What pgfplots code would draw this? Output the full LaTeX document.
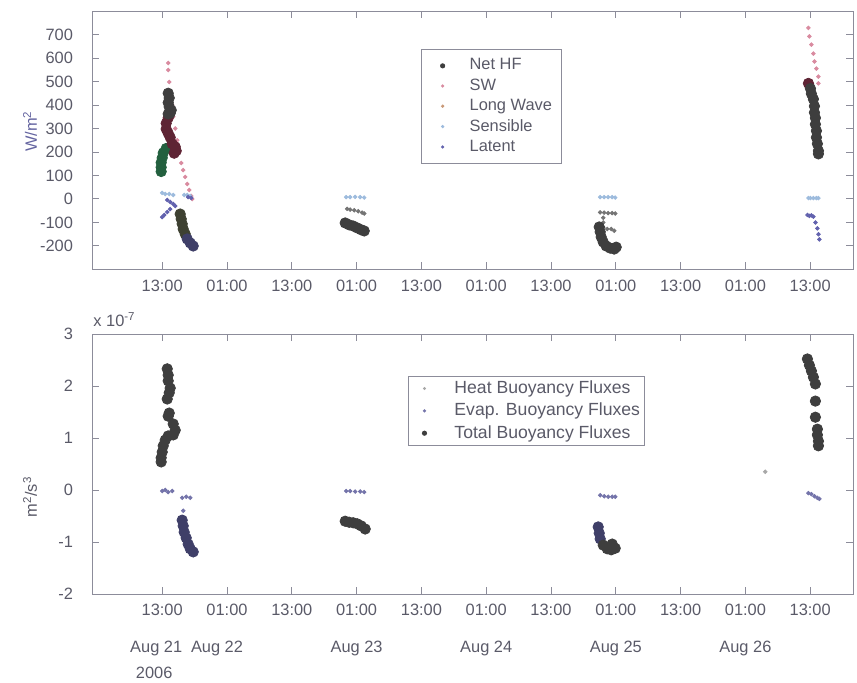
\documentclass[border=0pt]{standalone}
\usepackage{fontspec}
\setmainfont{Liberation Sans}
\usepackage{pgfplots}
\pgfplotsset{compat=1.18}

\definecolor{framegray}{HTML}{8C8C9A}
\definecolor{labelgray}{HTML}{5A5A68}
\definecolor{ylabpurple}{HTML}{6464A0}
\definecolor{netdark}{HTML}{3E3E3E}
\definecolor{netmaroon}{HTML}{5E2434}
\definecolor{netgreen}{HTML}{23603F}
\definecolor{netolive}{HTML}{3E4132}
\definecolor{netpurple}{HTML}{3F3F68}
\definecolor{swpink}{HTML}{D98BA0}
\definecolor{lwtan}{HTML}{C99A78}
\definecolor{lwgray}{HTML}{747474}
\definecolor{senslight}{HTML}{9DBBDD}
\definecolor{latpurple}{HTML}{6262AE}
\definecolor{heatgray}{HTML}{A8A8A8}
\definecolor{evappurple}{HTML}{7474AA}
\definecolor{totdark}{HTML}{3E3E3E}

\newcommand{\chartfont}{\fontsize{8.2}{9.8}\selectfont}
\newcommand{\legfont}{\fontsize{8.8}{10.4}\selectfont}

\pgfplotsset{
  panel/.style={
    scale only axis, width=380.7pt, xmin=0, xmax=141,
    axis line style={framegray, line width=0.5pt},
    every tick/.style={framegray, line width=0.5pt},
    major tick length=3.5pt,
    tick align=inside,
    xtick={13,25,...,133},
    ticklabel style={font=\chartfont, text=labelgray},
    yticklabel style={xshift=-6pt},
    xticklabel style={yshift=-1.5pt},
    label style={font=\chartfont},
    legend cell align=left,
    legend style={draw=framegray, line width=0.5pt, fill=white, text=labelgray},
  },
  big/.style={only marks, mark=*, mark size=2.6pt, forget plot},
  dot/.style={only marks, mark=*, mark size=0.9pt, forget plot},
  % legend entry: a single round dot (colour, radius, cell width)
  legdot/.style n args={3}{legend image code/.code={
      \path[draw=none, fill=#1] (8pt,0pt) circle[radius=#2];
      \path[draw=none, fill=none] (0pt,-1pt) rectangle (#3,1pt);}},
}

\begin{document}
\begin{tikzpicture}
% ---------------- heat fluxes (hours after Aug 21 00:00) ----------------
\begin{axis}[panel,
  at={(46pt,-5.5pt)}, anchor=north west, height=129.25pt,
  ymin=-300, ymax=800,
  ytick={-200,-100,...,700},
  yticklabels={-200,-100,0,100,200,300,400,500,600,700},
  xticklabels={13:00,01:00,13:00,01:00,13:00,01:00,13:00,01:00,13:00,01:00,13:00},
  ylabel={W/m\textsuperscript{2}},
  ylabel style={at={(rel axis cs:-0.0814,0.535)}, anchor=center, text=ylabpurple},
  legend style={at={(rel axis cs:0.432,0.853)}, anchor=north west,
    font=\chartfont, row sep=-1.1pt, inner sep=2.6pt},
]
\addlegendimage{legdot={netdark}{1.3pt}{19.5pt}}
\addlegendentry{Net HF}
\addlegendimage{legdot={swpink}{0.9pt}{19.5pt}}
\addlegendentry{SW}
\addlegendimage{legdot={lwtan}{0.9pt}{19.5pt}}
\addlegendentry{Long Wave}
\addlegendimage{legdot={senslight}{0.9pt}{19.5pt}}
\addlegendentry{Sensible}
\addlegendimage{legdot={latpurple}{0.9pt}{19.5pt}}
\addlegendentry{Latent}

% short wave
\addplot[dot, swpink] coordinates {
 (14.11,579) (14.11,549) (14.30,498) (14.48,450) (14.85,400) (15.04,350)
 (15.41,300) (15.78,250) (16.15,200) (16.52,153) (16.89,123) (17.26,94)
 (17.63,64) (18.00,38) (18.37,13) (18.56,0)
 (132.67,728) (132.85,692) (133.22,657) (133.59,619) (133.78,585)
 (134.15,555) (134.52,521) (134.52,492)};
% night-time long wave
\addplot[dot, lwgray] coordinates {
 (47.26,-42) (47.81,-45) (48.56,-48) (49.30,-52) (50.04,-58) (50.41,-62)
 (94.11,-57) (94.85,-58) (95.59,-60) (96.33,-60) (96.89,-62)
 (94.67,-80) (94.67,-100) (94.67,-120) (95.41,-128) (96.15,-128) (96.70,-135)};
% sensible
\addplot[dot, senslight] coordinates {
 (13.00,26) (13.56,21) (14.30,21) (15.04,17) (17.07,17) (17.63,17) (18.19,13)
 (47.07,8) (47.81,8) (48.74,9) (49.67,8) (50.41,6)
 (94.11,8) (94.85,8) (95.59,8) (96.33,8) (96.89,6)
 (132.67,4) (133.04,4) (133.59,4) (134.15,4) (134.52,4)};
% latent
\addplot[dot, latpurple] coordinates {
 (13.93,-4) (14.48,-13) (15.04,-21) (15.41,-30) (14.48,-43) (13.93,-55)
 (13.37,-68) (13.00,-77) (17.81,8) (18.37,4)
 (132.48,-68) (132.85,-72) (133.22,-70) (133.59,-75) (133.96,-100)
 (134.33,-125) (134.52,-150) (134.70,-172)};
% net heat flux
\addplot[big, netgreen] coordinates {
 (13.74,215) (13.19,196) (13.00,175) (12.81,155) (12.81,135) (12.81,117)};
\addplot[big, netmaroon] coordinates {
 (14.11,345) (13.74,322) (13.74,298) (14.11,280) (14.48,262) (14.85,235)
 (15.41,222) (15.59,205) (15.22,195) (132.67,492)};
\addplot[big, netdark] coordinates {
 (14.11,450) (14.30,430) (14.11,410) (14.30,392) (14.67,378) (14.48,365) (14.11,362)
 (46.89,-102) (47.63,-110) (48.37,-115) (49.11,-123) (49.85,-131) (50.41,-136)
 (93.93,-119) (94.11,-140) (94.30,-162) (94.67,-183) (95.22,-200)
 (95.96,-209) (96.70,-213) (97.07,-205)
 (133.04,470) (133.22,448) (133.59,425) (133.78,395) (133.78,368) (133.96,345)
 (133.96,318) (134.15,290) (134.15,262) (134.33,235) (134.52,205) (134.52,192)};
\addplot[big, netolive] coordinates {
 (16.33,-64) (16.52,-85) (16.70,-106) (16.89,-128) (17.26,-149)};
\addplot[big, netpurple] coordinates {
 (17.63,-170) (18.19,-187) (18.74,-200)};
\end{axis}

% ---------------- buoyancy fluxes, units of 1e-7 m^2/s^3 ----------------
\begin{axis}[panel, name=buoy,
  at={(46pt,-167pt)}, anchor=north west, height=130pt,
  ymin=-2, ymax=3,
  ytick={-2,-1,0,1,2,3},
  yticklabels={-2,-1,0,1,2,3},
  xticklabels={
    {13:00\\[8.6pt]Aug 21\kern6pt\\[3.2pt]2006\kern8pt},
    {01:00\\[8.6pt]Aug 22\kern10pt},
    13:00,
    {01:00\\[8.6pt]Aug 23},
    13:00,
    {01:00\\[8.6pt]Aug 24},
    13:00,
    {01:00\\[8.6pt]Aug 25},
    13:00,
    {01:00\\[8.6pt]Aug 26},
    13:00},
  xticklabel style={align=center, anchor=north},
  ylabel={m\textsuperscript{2}/s\textsuperscript{3}},
  ylabel style={at={(rel axis cs:-0.0814,0.373)}, anchor=center, text=labelgray},
  legend style={at={(rel axis cs:0.415,0.838)}, anchor=north west,
    font=\legfont, row sep=-0.7pt, inner sep=0pt},
]
\addlegendimage{legdot={heatgray}{0.8pt}{21pt}}
\addlegendentry{Heat Buoyancy Fluxes}
\addlegendimage{legdot={evappurple}{0.9pt}{21pt}}
\addlegendentry{Evap. Buoyancy Fluxes}
\addlegendimage{legdot={totdark}{1.3pt}{21pt}}
\addlegendentry{Total Buoyancy Fluxes}

% heat buoyancy flux
\addplot[dot, heatgray] coordinates {(124.67,0.35)};
% evaporative buoyancy flux
\addplot[dot, evappurple] coordinates {
 (13.00,-0.02) (13.56,0.00) (14.11,-0.04) (14.85,-0.02)
 (16.70,-0.15) (17.44,-0.13) (18.19,-0.15) (16.89,-0.40)
 (47.07,-0.02) (47.81,-0.02) (48.74,-0.03) (49.67,-0.03) (50.41,-0.04)
 (94.11,-0.10) (94.85,-0.12) (95.59,-0.13) (96.33,-0.13) (96.89,-0.13)
 (132.67,-0.06) (133.22,-0.08) (133.78,-0.12) (134.33,-0.15) (134.70,-0.17)};
% total buoyancy flux
\addplot[big, netpurple] coordinates {
 (16.70,-0.58) (16.89,-0.69) (17.07,-0.81) (17.44,-0.92) (17.81,-1.04)
 (18.19,-1.13) (18.74,-1.19)
 (93.74,-0.71) (93.93,-0.83) (94.11,-0.94)};
\addplot[big, totdark] coordinates {
 (13.93,2.33) (14.11,2.21) (14.11,2.10) (14.48,1.96) (14.30,1.87) (13.93,1.75)
 (14.30,1.48) (14.11,1.42) (15.04,1.27) (15.41,1.15) (15.04,1.06) (14.11,1.04)
 (13.56,0.96) (13.19,0.85) (13.00,0.73) (12.81,0.62) (12.81,0.54)
 (46.89,-0.60) (47.63,-0.62) (48.37,-0.63) (49.11,-0.65) (49.85,-0.69) (50.59,-0.75)
 (94.67,-1.06) (95.41,-1.13) (96.15,-1.15) (96.89,-1.12) (96.33,-1.04)
 (132.48,2.52) (132.85,2.40) (133.22,2.29) (133.59,2.17) (133.96,2.04)
 (133.96,1.71) (133.96,1.40) (134.33,1.17) (134.33,1.06) (134.52,0.94) (134.52,0.85)};
\end{axis}
% scale factor of the buoyancy axis
\node[anchor=base west, inner sep=0pt, font=\chartfont, text=labelgray]
  at ([xshift=0.5pt,yshift=4pt]buoy.north west) {x 10\textsuperscript{-7}};

\pgfresetboundingbox
\path[use as bounding box] (0,0) rectangle (428.5pt,-341pt);
\end{tikzpicture}
\end{document}
